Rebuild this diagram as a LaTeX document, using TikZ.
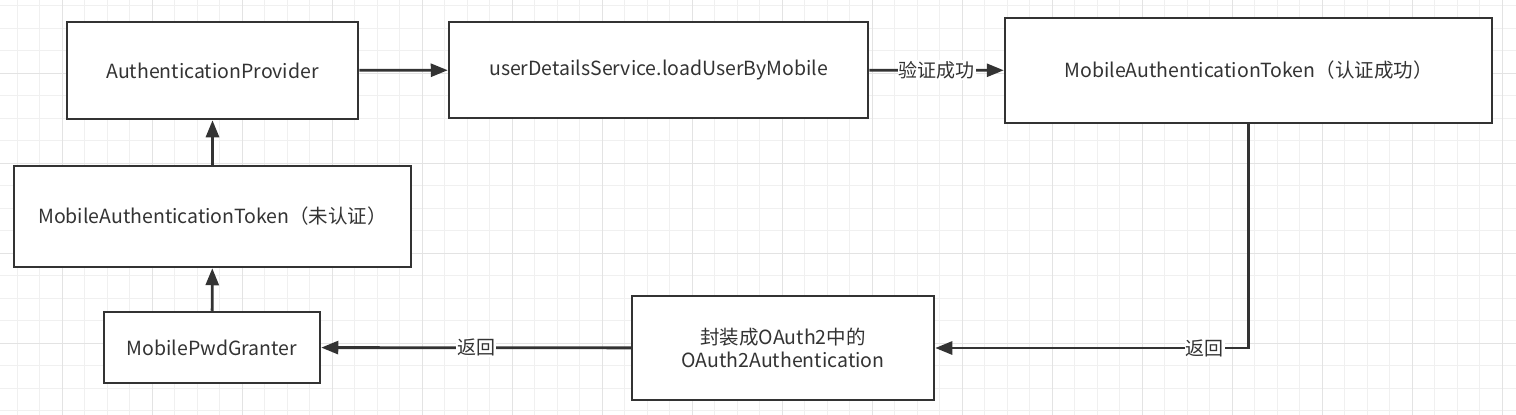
\documentclass[tikz,border=0pt]{standalone}
\usepackage{fontspec}
\setmainfont{Noto Sans CJK SC}
\usetikzlibrary{arrows.meta}
\definecolor{inkgray}{HTML}{333333}
\definecolor{gridminor}{HTML}{F0F0F0}
\definecolor{gridmajor}{HTML}{E3E3E3}
\tikzset{
	flowbox/.style={draw=inkgray, line width=2.5pt, fill=white, text=inkgray, font=\fontsize{19.5}{23}\selectfont, inner sep=0pt, align=center},
	flowarrow/.style={draw=inkgray, line width=2.8pt, -{Triangle[length=17pt,width=13pt]}},
	flowlabel/.style={fill=white, text=inkgray, font=\fontsize{19}{23}\selectfont, inner sep=1pt}
}

\begin{document}
\begin{tikzpicture}[x=1pt, y=-1pt]
			%%%%% START %%%%%
			\useasboundingbox (0, 0) rectangle (1516, 415);
			\fill[white] (0, 0) rectangle (1516, 415);
			
			% grid
			\foreach \gx in {0,...,66} {
				\draw[line width=1pt, color=gridminor] ({17.3+22.5*\gx}, 0) -- ({17.3+22.5*\gx}, 415);
			}
			\foreach \gy in {0,...,18} {
				\draw[line width=1pt, color=gridminor] (0, {5.8+22.5*\gy}) -- (1516, {5.8+22.5*\gy});
			}
			\foreach \gx in {0,...,16} {
				\draw[line width=1pt, color=gridmajor] ({62.3+90*\gx}, 0) -- ({62.3+90*\gx}, 415);
			}
			\foreach \gy in {0,...,4} {
				\draw[line width=1pt, color=gridmajor] (0, {73.3+90*\gy}) -- (1516, {73.3+90*\gy});
			}
			
			% boxes
			\node[flowbox, minimum width=291pt, minimum height=97pt] (prov) at (212.5, 70.5) {AuthenticationProvider};
			\node[flowbox, minimum width=419pt, minimum height=96pt] (svc) at (658.5, 70) {userDetailsService.loadUserByMobile};
			\node[flowbox, minimum width=487pt, minimum height=105pt] (tokok) at (1248.5, 70.5) {MobileAuthenticationToken（认证成功）};
			\node[flowbox, minimum width=397pt, minimum height=101pt] (tokun) at (212.5, 216.5) {MobileAuthenticationToken（未认证）};
			\node[flowbox, minimum width=216pt, minimum height=71pt] (granter) at (212, 347.5) {MobilePwdGranter};
			\node[flowbox, minimum width=302pt, minimum height=104pt] (wrap) at (783, 348) {封装成OAuth2中的\\OAuth2Authentication};
			
			% connectors
			\draw[flowarrow] (prov) -- (svc);
			\draw[flowarrow] (svc) -- node[flowlabel] (lblok) {验证成功} (tokok);
			\draw[flowarrow] (tokok.south) |- node[flowlabel, pos=0.57] (lblback) {返回} (wrap.east);
			\draw[flowarrow] (wrap) -- node[flowlabel] (lblret) {返回} (granter);
			\draw[flowarrow] (granter) -- (tokun);
			\draw[flowarrow] (tokun) -- (prov);
			
			%%%%% END %%%%%
\end{tikzpicture}
\end{document}
